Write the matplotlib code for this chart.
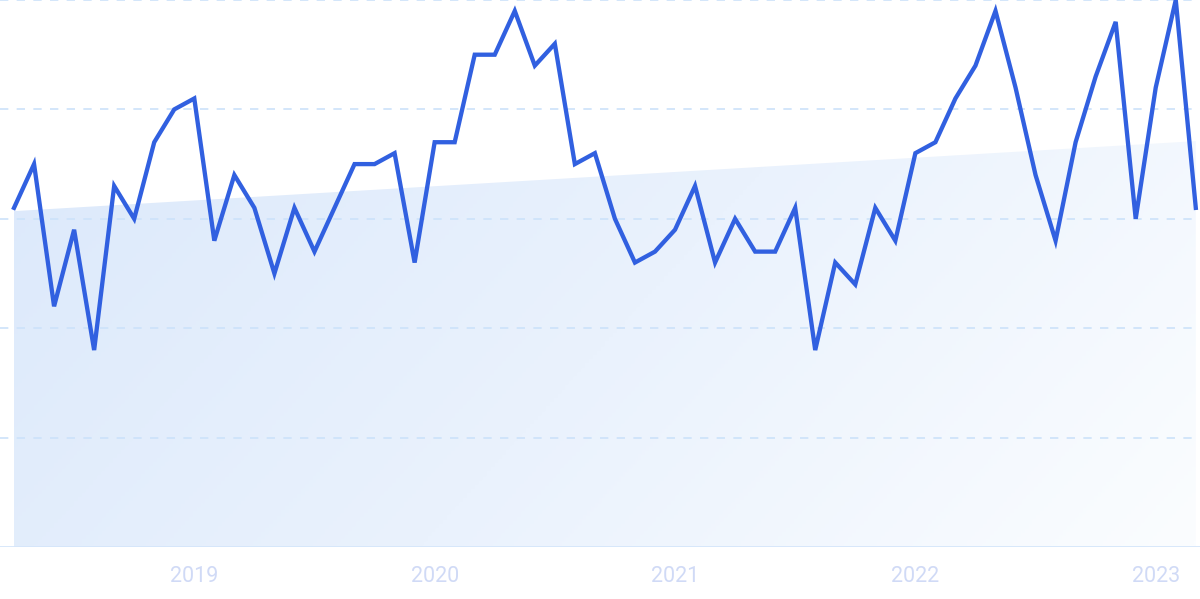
import numpy as np
import pandas as pd
import matplotlib
matplotlib.use("Agg")
import matplotlib.pyplot as plt
from matplotlib.colors import LinearSegmentedColormap

# monthly interest values, Apr 2018 .. Mar 2023
months = pd.date_range("2018-04-01", periods=60, freq="MS")
values = [62, 70, 44, 58, 36, 66, 60, 74, 80, 82,
          56, 68, 62, 50, 62, 54, 62, 70, 70, 72,
          52, 74, 74, 90, 90, 98, 88, 92, 70, 72,
          60, 52, 54, 58, 66, 52, 60, 54, 54, 62,
          36, 52, 48, 62, 56, 72, 74, 82, 88, 98,
          84, 68, 56, 74, 86, 96, 60, 84, 100, 62]
# trend line end values (first and last month)
trend_ends = [61.4, 74.2]
year_labels = ["2019", "2020", "2021", "2022", "2023"]
grid_values = [20, 40, 60, 80, 100]

plt.rcParams['font.family'] = ['Roboto', 'DejaVu Sans']

fig = plt.figure(figsize=(12, 5.99), dpi=100)
ax = fig.add_axes([0, 52 / 599, 1, 547 / 599])

x = np.arange(len(values))
ax.set_xlim(-0.70, 59.21)
ax.set_ylim(0, 100)

# trend area with diagonal gradient (blue top-left -> white bottom-right)
trend = np.linspace(trend_ends[0], trend_ends[1], len(values))
poly = ax.fill_between(x, 0, trend, color="none", lw=0)
cmap = LinearSegmentedColormap.from_list("fade", ["#dce9fb", "#eaf2fd", "#fbfdff"])
gx, gy = np.meshgrid(np.linspace(0, 1, 300), np.linspace(0, 1, 300))
grad = gx * 0.8 + gy * 0.25
img = ax.imshow(grad, cmap=cmap, extent=[x[0], x[-1], 0, trend_ends[1]], origin="upper",
                aspect="auto", zorder=1, vmin=0, vmax=1.05)
img.set_clip_path(poly.get_paths()[0], transform=ax.transData)

# dashed grid
for g in grid_values:
    ax.axhline(g, color="#cce2fa", lw=1.2, ls=(0, (5, 5)), zorder=2)
ax.axhline(0, color="#d5e6fa", lw=2, zorder=2)

ax.plot(x, values, color="#3160e0", lw=3.1, solid_joinstyle="miter", zorder=3)

for sp in ax.spines.values():
    sp.set_visible(False)
ax.set_yticks([])
ax.set_xticks([9, 21, 33, 45, 57])
ax.set_xticklabels(year_labels)
ax.tick_params(axis="x", length=0, pad=14, labelsize=15.5, labelcolor="#d0daf6")

fig.savefig("out.png", dpi=100)
